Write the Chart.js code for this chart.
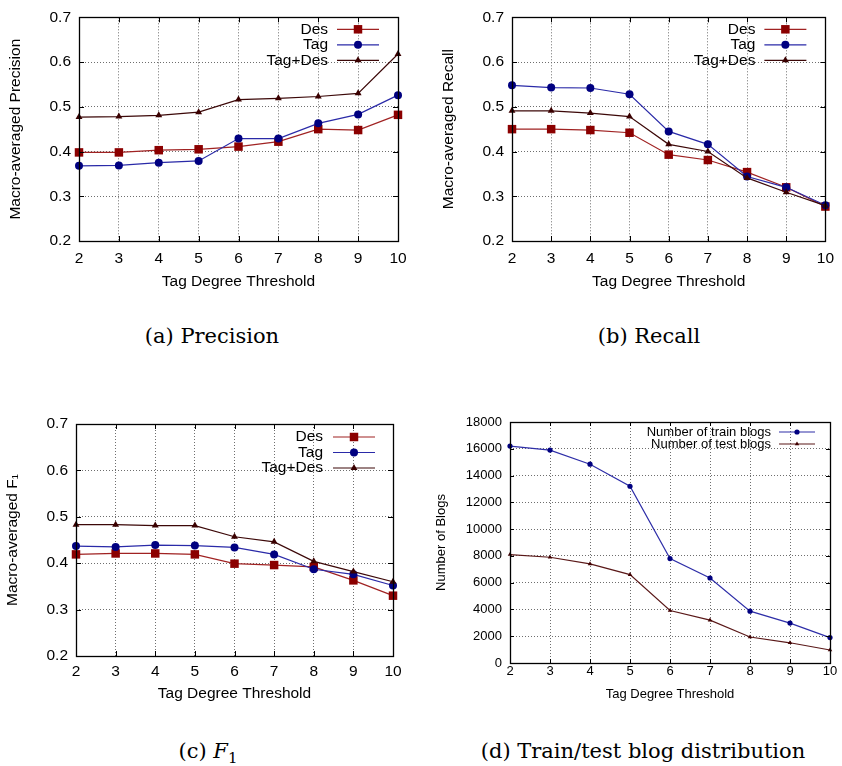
<!DOCTYPE html>
<html>
<head>
<meta charset="utf-8">
<script src="https://cdn.jsdelivr.net/npm/chart.js@4.4.1/dist/chart.umd.min.js"></script>
<style>
  body { margin: 0; background: #fff; }
  #page { position: relative; width: 842px; height: 766px; overflow: hidden; background: #fff; }
  canvas { position: absolute; }
  .cap { position: absolute; width: 400px; text-align: center; white-space: nowrap;
         font-family: 'DejaVu Serif', serif; font-size: 21px; line-height: 24px; color: #000; }
</style>
</head>
<body>
<div id="page">
  <canvas id="cPrecision" width="420" height="300" style="left:0;top:0"></canvas>
  <canvas id="cRecall" width="422" height="300" style="left:420px;top:0"></canvas>
  <canvas id="cF1" width="420" height="320" style="left:0;top:390px"></canvas>
  <canvas id="cBlogs" width="422" height="320" style="left:420px;top:390px"></canvas>

  <div class="cap" style="left:12px;top:324px">(a) Precision</div>
  <div class="cap" style="left:449px;top:324px">(b) Recall</div>
  <div class="cap" style="left:8px;top:739px">(c) <i>F</i><sub style="font-size:15px">1</sub></div>
  <div class="cap" style="left:443px;top:739px">(d) Train/test blog distribution</div>
</div>

<script>
// Eje x: umbral de grado de etiqueta
const thresholds = ['2', '3', '4', '5', '6', '7', '8', '9', '10'];

// (a) Precision
const precisionDes    = [0.398, 0.398, 0.403, 0.405, 0.411, 0.422, 0.450, 0.448, 0.482];
const precisionTag    = [0.368, 0.369, 0.375, 0.379, 0.429, 0.429, 0.463, 0.483, 0.526];
const precisionTagDes = [0.477, 0.478, 0.481, 0.488, 0.516, 0.519, 0.523, 0.530, 0.618];

// (b) Recall
const recallDes    = [0.450, 0.450, 0.448, 0.442, 0.393, 0.381, 0.354, 0.320, 0.277];
const recallTag    = [0.548, 0.543, 0.542, 0.528, 0.445, 0.416, 0.344, 0.320, 0.280];
const recallTagDes = [0.491, 0.491, 0.486, 0.478, 0.416, 0.400, 0.341, 0.309, 0.279];

// (c) F1
const f1Des    = [0.419, 0.421, 0.421, 0.419, 0.399, 0.396, 0.392, 0.363, 0.330];
const f1Tag    = [0.437, 0.435, 0.439, 0.438, 0.434, 0.419, 0.387, 0.376, 0.352];
const f1TagDes = [0.483, 0.483, 0.481, 0.481, 0.457, 0.446, 0.404, 0.382, 0.360];

// (d) Número de blogs
const trainBlogs = [16200, 15900, 14850, 13200, 7800, 6350, 3870, 2980, 1900];
const testBlogs  = [8100, 7900, 7400, 6600, 3920, 3200, 1940, 1510, 970];

// Rangos de los ejes y
const scoreMin = 0.2, scoreMax = 0.7, scoreStep = 0.1;
const blogsMin = 0, blogsMax = 18000, blogsStep = 2000;

const FONT = "'Liberation Sans', Arial, Helvetica, sans-serif";

// Dibuja un marcador como lo hace Chart.js
function drawMarker(ctx, style, x, y, r, color) {
    ctx.fillStyle = color;
    ctx.beginPath();
    if (style === 'rect') {
        const s = r * Math.SQRT1_2;
        ctx.rect(x - s, y - s, 2 * s, 2 * s);
    } else if (style === 'triangle') {
        let rad = 0;
        ctx.moveTo(x + Math.sin(rad) * r, y - Math.cos(rad) * r);
        rad += 2 * Math.PI / 3;
        ctx.lineTo(x + Math.sin(rad) * r, y - Math.cos(rad) * r);
        rad += 2 * Math.PI / 3;
        ctx.lineTo(x + Math.sin(rad) * r, y - Math.cos(rad) * r);
        ctx.closePath();
    } else {
        ctx.arc(x, y, r, 0, Math.PI * 2);
    }
    ctx.fill();
}

// Marco, ticks hacia adentro y leyenda estilo gnuplot
const gnuplotFrame = {
    id: 'gnuplotFrame',
    afterDatasetsDraw(chart, args, opts) {
        const { ctx, chartArea: a, scales } = chart;
        const tl = opts.tickLen;
        ctx.save();
        ctx.strokeStyle = '#000';
        ctx.lineWidth = 1;
        ctx.beginPath();
        scales.x.ticks.forEach((t, i) => {
            const px = Math.round(scales.x.getPixelForTick(i)) + 0.5;
            ctx.moveTo(px, a.bottom); ctx.lineTo(px, a.bottom - tl);
            ctx.moveTo(px, a.top); ctx.lineTo(px, a.top + tl);
        });
        scales.y.ticks.forEach((t, i) => {
            const py = Math.round(scales.y.getPixelForTick(i)) + 0.5;
            ctx.moveTo(a.left, py); ctx.lineTo(a.left + tl, py);
            ctx.moveTo(a.right, py); ctx.lineTo(a.right - tl, py);
        });
        ctx.stroke();
        ctx.lineWidth = 1.3;
        ctx.strokeRect(Math.round(a.left) + 0.5, Math.round(a.top) + 0.5,
                       Math.round(a.width), Math.round(a.height));

        // leyenda
        ctx.font = opts.fontSize + 'px ' + FONT;
        ctx.textAlign = 'right';
        ctx.textBaseline = 'middle';
        chart.data.datasets.forEach((ds, i) => {
            const y = a.top + opts.y0 + i * opts.dy;
            const x1 = a.right - opts.x1, x2 = a.right - opts.x2;
            ctx.fillStyle = '#000';
            ctx.fillText(ds.label, a.right - opts.textEnd, y);
            ctx.strokeStyle = ds.borderColor;
            ctx.lineWidth = ds.borderWidth;
            ctx.beginPath();
            ctx.moveTo(x1, y); ctx.lineTo(x2, y);
            ctx.stroke();
            drawMarker(ctx, ds.pointStyle, (x1 + x2) / 2, y, ds.pointRadius, ds.pointBackgroundColor);
        });
        ctx.restore();
    }
};

function serie(label, data, line, marker, style, radius, order) {
    return {
        label: label,
        data: data,
        borderColor: line,
        borderWidth: 1.2,
        pointStyle: style,
        pointRadius: radius,
        pointBackgroundColor: marker,
        pointBorderWidth: 0,
        tension: 0,
        fill: false,
        clip: false,
        order: order
    };
}

// Construye un panel con medidas fijas de ejes
function buildChart(id, p) {
    return new Chart(document.getElementById(id), {
        type: 'line',
        data: { labels: thresholds, datasets: p.datasets },
        options: {
            responsive: false,
            animation: false,
            events: [],
            layout: { padding: { left: 0, top: p.padTop, right: p.padRight, bottom: 0 } },
            plugins: {
                legend: { display: false },
                tooltip: { enabled: false },
                gnuplotFrame: p.key
            },
            scales: {
                x: {
                    type: 'category',
                    offset: false,
                    grid: { color: '#6e6e6e', lineWidth: 1, drawTicks: false, offset: false },
                    border: { display: false, dash: [1, 2] },
                    ticks: { color: '#000', font: { family: FONT, size: p.fontSize },
                             padding: p.xTickPad, maxRotation: 0, autoSkip: false },
                    title: { display: true, text: 'Tag Degree Threshold', color: '#000',
                             font: { family: FONT, size: p.fontSize },
                             padding: { top: 0, bottom: p.xTitlePad } },
                    afterFit: s => { s.height = p.xAxisHeight; }
                },
                y: {
                    min: p.yMin,
                    max: p.yMax,
                    grid: { color: '#6e6e6e', lineWidth: 1, drawTicks: false },
                    border: { display: false, dash: [1, 2] },
                    ticks: { color: '#000', font: { family: FONT, size: p.fontSize },
                             stepSize: p.yStep, padding: 8, callback: p.yFormat },
                    title: { display: true, text: p.yTitle, color: '#000',
                             font: { family: FONT, size: p.fontSize },
                             padding: { top: p.yTitlePad, bottom: 0 } },
                    afterFit: s => { s.width = p.yAxisWidth; }
                }
            }
        },
        plugins: [gnuplotFrame]
    });
}

const scoreFormat = v => v.toFixed(1);
const keyBig = { textEnd: 70, x1: 61, x2: 19, y0: 12, dy: 15.5, fontSize: 15.5, tickLen: 5 };

// (a) Precision
buildChart('cPrecision', {
    datasets: [
        serie('Des', precisionDes, '#a02222', '#8b0000', 'rect', 6, 3),
        serie('Tag', precisionTag, '#2a2aa8', '#000080', 'circle', 4, 2),
        serie('Tag+Des', precisionTagDes, '#3c0808', '#3a0000', 'triangle', 4, 1)
    ],
    yTitle: 'Macro-averaged Precision',
    yMin: scoreMin, yMax: scoreMax, yStep: scoreStep, yFormat: scoreFormat,
    padTop: 10, padRight: 22, yAxisWidth: 79, xAxisHeight: 59,
    xTickPad: 8, xTitlePad: 9, yTitlePad: 6, fontSize: 15.5,
    key: keyBig
});

// (b) Recall
buildChart('cRecall', {
    datasets: [
        serie('Des', recallDes, '#a02222', '#8b0000', 'rect', 6, 3),
        serie('Tag', recallTag, '#2a2aa8', '#000080', 'circle', 4, 2),
        serie('Tag+Des', recallTagDes, '#3c0808', '#3a0000', 'triangle', 4, 1)
    ],
    yTitle: 'Macro-averaged Recall',
    yMin: scoreMin, yMax: scoreMax, yStep: scoreStep, yFormat: scoreFormat,
    padTop: 10, padRight: 12, yAxisWidth: 92, xAxisHeight: 59,
    xTickPad: 8, xTitlePad: 9, yTitlePad: 19, fontSize: 15.5,
    key: keyBig
});

// (c) F1
buildChart('cF1', {
    datasets: [
        serie('Des', f1Des, '#a02222', '#8b0000', 'rect', 6, 3),
        serie('Tag', f1Tag, '#2a2aa8', '#000080', 'circle', 4, 2),
        serie('Tag+Des', f1TagDes, '#3c0808', '#3a0000', 'triangle', 4, 1)
    ],
    yTitle: 'Macro-averaged F\u2081',
    yMin: scoreMin, yMax: scoreMax, yStep: scoreStep, yFormat: scoreFormat,
    padTop: 34, padRight: 27, yAxisWidth: 76, xAxisHeight: 54,
    xTickPad: 6, xTitlePad: 7, yTitlePad: 3, fontSize: 15.5,
    key: { textEnd: 70, x1: 60, x2: 18, y0: 13, dy: 15.5, fontSize: 15.5, tickLen: 5 }
});

// (d) Distribución de blogs
buildChart('cBlogs', {
    datasets: [
        serie('Number of train blogs', trainBlogs, '#2e2ea8', '#000080', 'circle', 2.6, 2),
        serie('Number of test blogs', testBlogs, '#5a1818', '#400000', 'triangle', 2.6, 1)
    ],
    yTitle: 'Number of Blogs',
    yMin: blogsMin, yMax: blogsMax, yStep: blogsStep, yFormat: v => String(v),
    padTop: 32, padRight: 12, yAxisWidth: 90, xAxisHeight: 47,
    xTickPad: 1, xTitlePad: 8, yTitlePad: 14, fontSize: 13,
    key: { textEnd: 59, x1: 51, x2: 15, y0: 10, dy: 12, fontSize: 13, tickLen: 4 }
});
</script>
</body>
</html>
